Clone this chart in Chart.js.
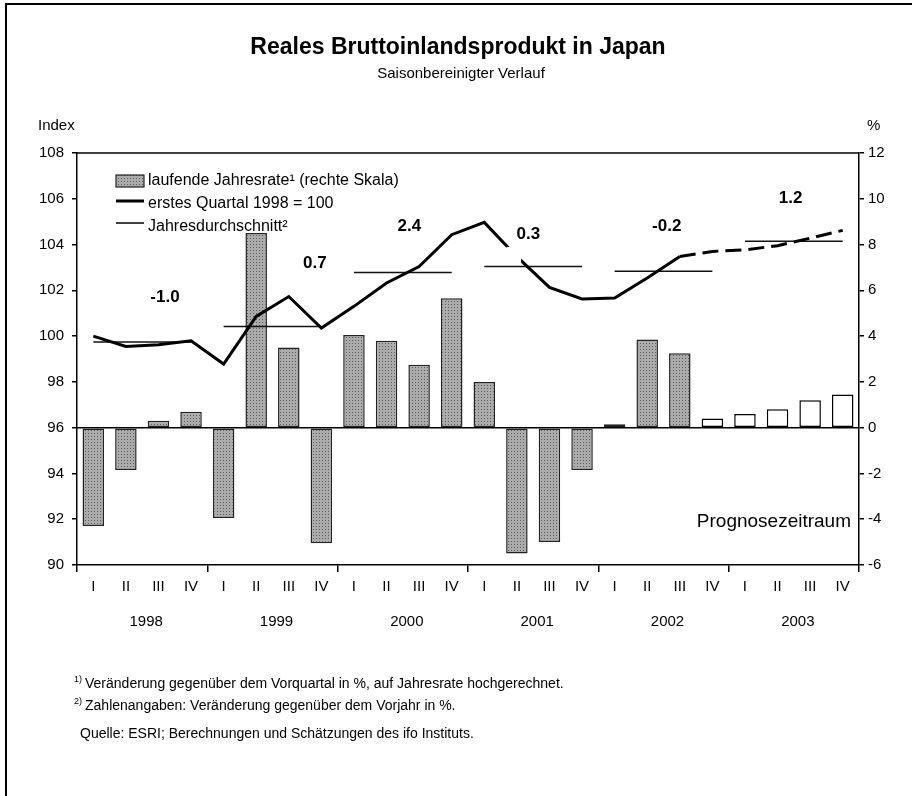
<!DOCTYPE html>
<html>
<head>
<meta charset="utf-8">
<script src="https://cdn.jsdelivr.net/npm/chart.js@4.4.0/dist/chart.umd.min.js"></script>
<style>
  body { margin: 0; background: #fff; font-family: "Liberation Sans", Arial, sans-serif; }
  #wrap { position: relative; width: 912px; height: 796px; overflow: hidden; }
  #frame { position: absolute; left: 5px; top: 3px; width: 920px; height: 800px;
           border-top: 2px solid #000; border-left: 2px solid #000; pointer-events: none; }
  .note { position: absolute; left: 74px; font-size: 14px; color: #000; white-space: nowrap; }
  .note sup { font-size: 9px; vertical-align: 6px; margin-right: 3px; }
</style>
</head>
<body>
<div id="wrap">
  <canvas id="chart" width="912" height="796"></canvas>
  <div id="frame"></div>
  <div class="note" style="top:674px"><sup>1)</sup>Veränderung gegenüber dem Vorquartal in %, auf Jahresrate hochgerechnet.</div>
  <div class="note" style="top:696px"><sup>2)</sup>Zahlenangaben: Veränderung gegenüber dem Vorjahr in %.</div>
  <div class="note" style="top:725px; left:80px">Quelle: ESRI; Berechnungen und Schätzungen des ifo Instituts.</div>
</div>
<script>
const quarters = ['I', 'II', 'III', 'IV']
const years = ['1998', '1999', '2000', '2001', '2002', '2003']
const labels = years.flatMap(() => quarters)

// laufende Jahresrate in % (rechte Skala)
const jahresrate = [
    -4.3, -1.85, 0.3, 0.7,
    -3.95, 8.5, 3.5, -5.05,
    4.05, 3.8, 2.75, 5.65,
    2.0, -5.5, -5.0, -1.85,
    0.15, 3.85, 3.25, 0.4,
    0.6, 0.8, 1.2, 1.45,
]
// Index, erstes Quartal 1998 = 100
const indexLevel = [
    100.0, 99.55, 99.62, 99.8,
    98.78, 100.86, 101.73, 100.35,
    101.3, 102.32, 103.04, 104.43,
    104.97, 103.47, 102.13, 101.62,
    101.66, 102.54, 103.48, 103.7,
    103.77, 103.95, 104.28, 104.62,
]
// Jahresdurchschnitt (Indexniveau) und Veraenderung gegenueber Vorjahr
const yearAvg = [99.74, 100.42, 102.78, 103.04, 102.83, 104.14]
const yearChange = ['-1.0', '0.7', '2.4', '0.3', '-0.2', '1.2']

const forecastBarFrom = 19 // 2002 IV
const forecastLineFrom = 18 // dashed from 2002 III

const font = '"Liberation Sans", Arial, sans-serif'

// where the bold yearly numbers sit: [category index, index value]
const changeAnchors = [[2.2, 101.7], [6.8, 103.2], [9.7, 104.8], [13.35, 104.45], [17.6, 104.8], [21.4, 106.0]]

function makePattern() {
    const c = document.createElement('canvas')
    c.width = 3
    c.height = 3
    const g = c.getContext('2d')
    g.fillStyle = '#ababab'
    g.fillRect(0, 0, 3, 3)
    g.fillStyle = '#5e5e5e'
    g.fillRect(1, 1, 1, 1)
    return g.createPattern(c, 'repeat')
}
const dotted = makePattern()

const overlay = {
    id: 'overlay',
    afterDatasetsDraw(chart) {
        const { ctx, chartArea: a, scales } = chart
        const x = scales.x, y = scales.y, y1 = scales.y1
        ctx.save()

        // top frame line of the plot
        ctx.strokeStyle = '#000'
        ctx.lineWidth = 1.5
        ctx.beginPath()
        ctx.moveTo(a.left, a.top)
        ctx.lineTo(a.right, a.top)
        ctx.stroke()

        // text box of "0.3" hides a piece of the line
        ctx.fillStyle = '#fff'
        const gx0 = x.getPixelForValue(12.68), gx1 = x.getPixelForValue(13.13)
        const gy0 = y.getPixelForValue(103.9), gy1 = y.getPixelForValue(103.2)
        ctx.fillRect(gx0, gy0, gx1 - gx0, gy1 - gy0)

        // title
        ctx.fillStyle = '#000'
        ctx.textAlign = 'center'
        ctx.textBaseline = 'middle'
        const cx = 458
        ctx.font = 'bold 23px ' + font
        ctx.fillText('Reales Bruttoinlandsprodukt in Japan', cx, 48)
        ctx.font = '15px ' + font
        ctx.fillText('Saisonbereinigter Verlauf', cx + 3, 74)

        // axis units
        ctx.font = '15px ' + font
        ctx.textAlign = 'left'
        ctx.fillText('Index', 38, 126)
        ctx.fillText('%', 867, 126)

        // year labels under the quarters
        ctx.textAlign = 'center'
        ctx.font = '15px ' + font
        years.forEach((yr, i) => {
            ctx.fillText(yr, x.getPixelForValue(i * 4 + 1.5) + 4, 622)
        })

        // yearly change numbers
        ctx.font = 'bold 17px ' + font
        yearChange.forEach((t, i) => {
            const [cv, iv] = changeAnchors[i]
            ctx.fillText(t, x.getPixelForValue(cv), y.getPixelForValue(iv))
        })

        ctx.font = '19px ' + font
        ctx.textAlign = 'right'
        ctx.fillText('Prognosezeitraum', a.right - 8, y1.getPixelForValue(-4.1))

        // legend
        const lx = a.left + 39, ly = a.top + 28, step = 23
        ctx.font = '16px ' + font
        ctx.textAlign = 'left'
        ctx.fillStyle = dotted
        ctx.fillRect(lx, ly - 6, 28, 12)
        ctx.strokeStyle = '#222'
        ctx.lineWidth = 1.2
        ctx.strokeRect(lx, ly - 6, 28, 12)
        ctx.strokeStyle = '#000'
        ctx.lineWidth = 3
        ctx.beginPath()
        ctx.moveTo(lx, ly + step - 3)
        ctx.lineTo(lx + 28, ly + step - 3)
        ctx.stroke()
        ctx.lineWidth = 1.5
        ctx.beginPath()
        ctx.moveTo(lx, ly + 2 * step - 4)
        ctx.lineTo(lx + 28, ly + 2 * step - 4)
        ctx.stroke()
        ctx.fillStyle = '#000'
        ctx.fillText('laufende Jahresrate¹ (rechte Skala)', lx + 32, ly)
        ctx.fillText('erstes Quartal 1998 = 100', lx + 32, ly + step)
        ctx.fillText('Jahresdurchschnitt²', lx + 32, ly + 2 * step)

        ctx.restore()
    },
}

const tickFont = { family: font, size: 15 }

new Chart(document.getElementById('chart'), {
    type: 'bar',
    data: {
        labels,
        datasets: [
            {
                type: 'line',
                label: 'erstes Quartal 1998 = 100',
                data: indexLevel,
                yAxisID: 'y',
                borderColor: '#000',
                borderWidth: 3,
                pointRadius: 0,
                tension: 0,
                segment: {
                    borderDash: (c) => (c.p0DataIndex >= forecastLineFrom ? [16, 7] : undefined),
                },
                order: 1,
            },
            {
                type: 'line',
                label: 'Jahresdurchschnitt',
                data: labels.map((_, i) => yearAvg[Math.floor(i / 4)]),
                yAxisID: 'y',
                borderColor: '#111',
                borderWidth: 1.5,
                pointRadius: 0,
                segment: {
                    borderColor: (c) => (c.p0DataIndex % 4 === 3 ? 'rgba(0,0,0,0)' : '#111'),
                },
                order: 2,
            },
            {
                label: 'laufende Jahresrate (rechte Skala)',
                data: jahresrate,
                yAxisID: 'y1',
                backgroundColor: (c) => (c.dataIndex >= forecastBarFrom ? '#fff' : dotted),
                borderColor: (c) => (c.dataIndex >= forecastBarFrom ? '#000' : '#222'),
                borderWidth: 1.5,
                borderSkipped: false,
                barPercentage: 0.66,
                categoryPercentage: 1,
                order: 3,
            },
        ],
    },
    options: {
        responsive: false,
        animation: false,
        events: [],
        layout: { padding: { top: 153, bottom: 201, left: 0, right: 0 } },
        plugins: { legend: { display: false }, tooltip: { enabled: false } },
        scales: {
            x: {
                grid: {
                    offset: true,
                    drawOnChartArea: false,
                    tickLength: 7,
                    lineWidth: 1.5,
                    color: (c) => (c.index === undefined || c.index % 4 === 0 ? '#000' : 'rgba(0,0,0,0)'),
                },
                border: { color: '#000', width: 1.5 },
                ticks: { color: '#000', font: tickFont, padding: 6, maxRotation: 0, autoSkip: false },
                afterFit: (s) => { s.height = 30 },
            },
            y: {
                position: 'left',
                min: 90,
                max: 108,
                ticks: { stepSize: 2, color: '#000', font: tickFont, padding: 8 },
                grid: { drawOnChartArea: false, tickLength: 5, color: '#000', lineWidth: 1.5 },
                border: { color: '#000', width: 1.5 },
                afterFit: (s) => { s.width = 77 },
            },
            y1: {
                position: 'right',
                min: -6,
                max: 12,
                ticks: { stepSize: 2, color: '#000', font: tickFont, padding: 4 },
                grid: {
                    drawOnChartArea: true,
                    tickLength: 5,
                    lineWidth: 1.5,
                    tickColor: '#000',
                    color: (c) => (c.tick && c.tick.value === 0 ? '#000' : 'rgba(0,0,0,0)'),
                },
                border: { color: '#000', width: 1.5 },
                afterFit: (s) => { s.width = 53 },
            },
        },
    },
    plugins: [overlay],
})
</script>
</body>
</html>
